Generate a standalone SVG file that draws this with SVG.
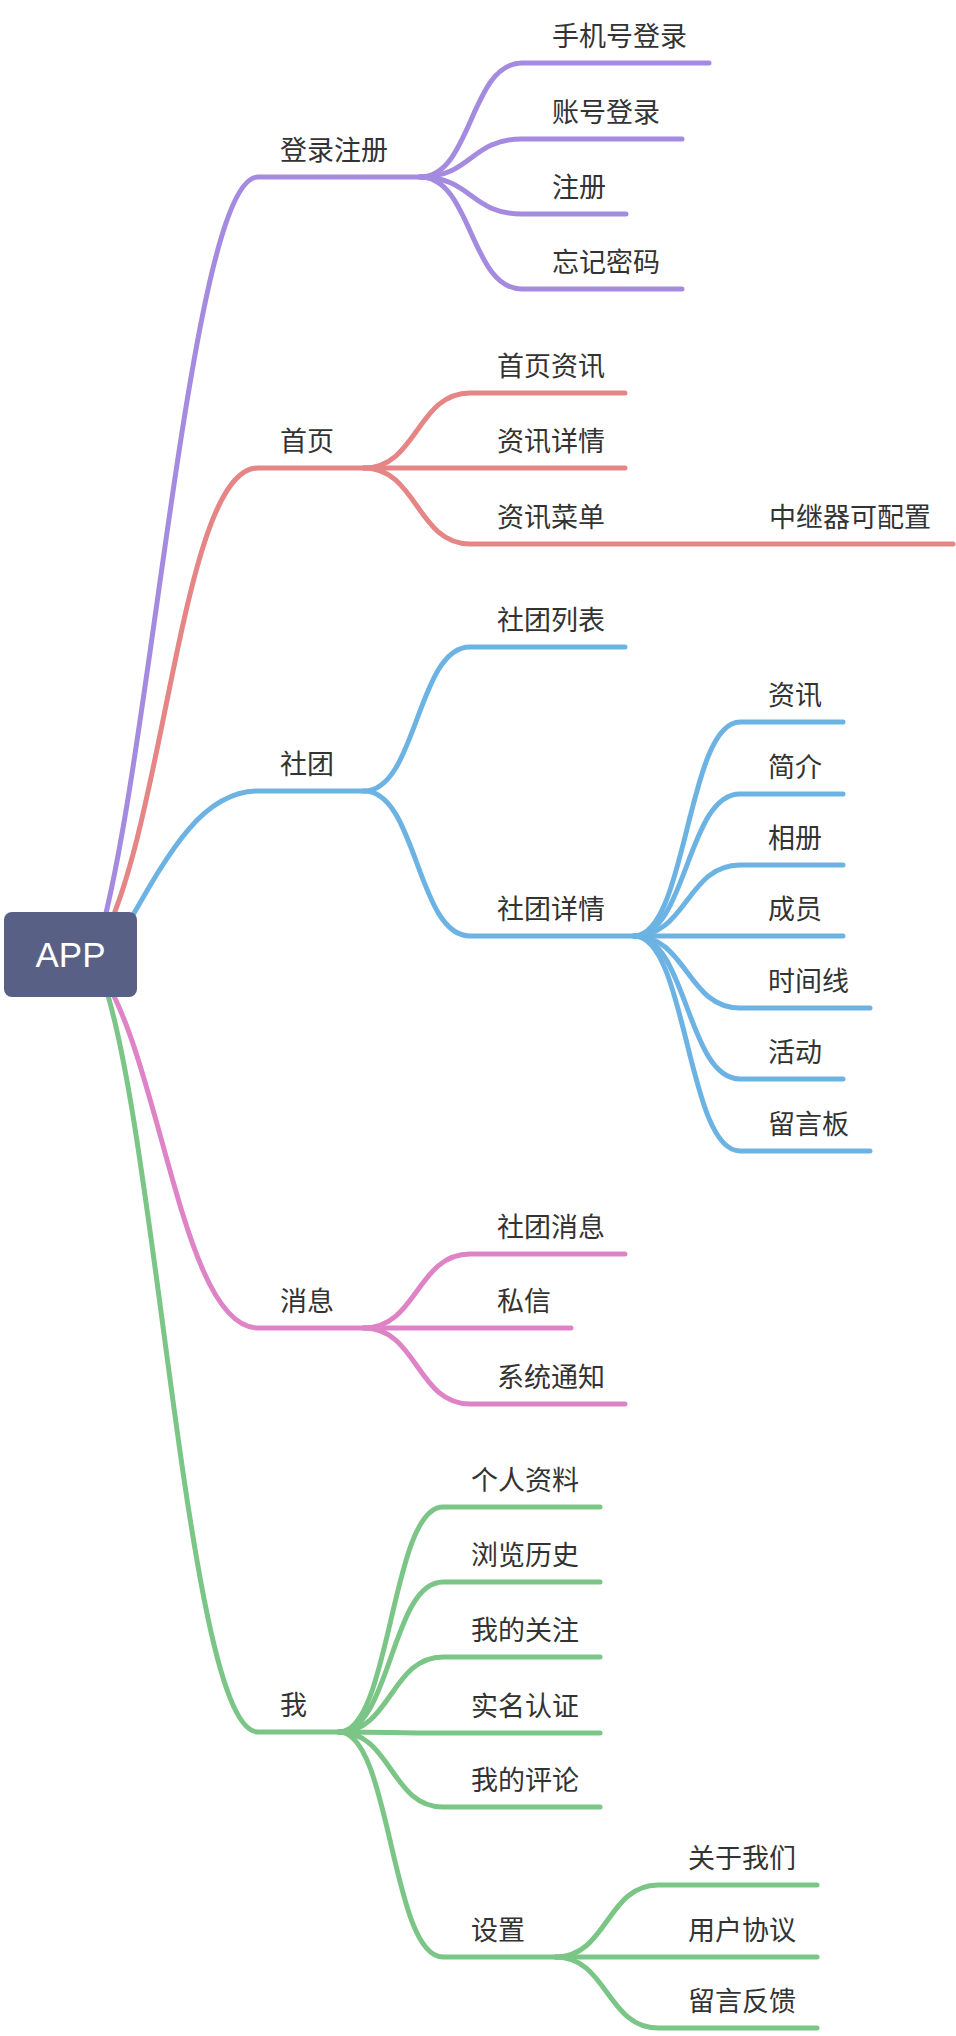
<svg xmlns="http://www.w3.org/2000/svg" width="956" height="2036" viewBox="0 0 956 2036">
<style>
.c{fill:none;stroke-width:5;stroke-linecap:round;stroke-linejoin:round}
.pu{stroke:#a48be0}.rd{stroke:#e58585}.bl{stroke:#6cb3e4}.pk{stroke:#df83c7}.gr{stroke:#7bc587}
text{font-family:"Noto Sans CJK SC","Noto Sans",sans-serif;font-size:27px;fill:#333}
.root text{font-family:"Liberation Sans",Arial,sans-serif;font-size:35px;fill:#fff;text-anchor:middle}
</style>
<rect width="956" height="2036" fill="#fff"/>
<g id="connectors">
<path class="c pu" d="M96,950 C150,780 190,177 258,177 L420,177"/>
<path class="c pu" d="M420,177 C472,177 470,63 522,63 L709,63"/>
<path class="c pu" d="M420,177 C472,177 470,139 522,139 L682,139"/>
<path class="c pu" d="M420,177 C472,177 470,214 522,214 L626,214"/>
<path class="c pu" d="M420,177 C472,177 470,289 522,289 L682,289"/>
<path class="c rd" d="M96,952 C165,840 180,468 258,468 L364,468"/>
<path class="c rd" d="M364,468 C417,468 417,393 470,393 L625,393"/>
<path class="c rd" d="M364,468 L625,468"/>
<path class="c rd" d="M364,468 C417,468 417,544 470,544 L953,544"/>
<path class="c bl" d="M110,955 C160,870 195,791 258,791 L364,791"/>
<path class="c bl" d="M364,791 C417,791 417,647 470,647 L625,647"/>
<path class="c bl" d="M364,791 C417,791 417,936 470,936 L634,936"/>
<path class="c bl" d="M634,936 C687,936 687,722 740,722 L843,722"/>
<path class="c bl" d="M634,936 C687,936 687,794 740,794 L843,794"/>
<path class="c bl" d="M634,936 C687,936 687,865 740,865 L843,865"/>
<path class="c bl" d="M634,936 L843,936"/>
<path class="c bl" d="M634,936 C687,936 687,1008 740,1008 L870,1008"/>
<path class="c bl" d="M634,936 C687,936 687,1079 740,1079 L843,1079"/>
<path class="c bl" d="M634,936 C687,936 687,1151 740,1151 L870,1151"/>
<path class="c pk" d="M95,965 C160,1045 180,1328 258,1328 L364,1328"/>
<path class="c pk" d="M364,1328 C417,1328 417,1254 470,1254 L625,1254"/>
<path class="c pk" d="M364,1328 L571,1328"/>
<path class="c pk" d="M364,1328 C417,1328 417,1404 470,1404 L625,1404"/>
<path class="c gr" d="M95,960 C155,1080 185,1732 258,1732 L339,1732"/>
<path class="c gr" d="M339,1732 C391,1732 391,1507 443,1507 L600,1507"/>
<path class="c gr" d="M339,1732 C391,1732 391,1582 443,1582 L600,1582"/>
<path class="c gr" d="M339,1732 C391,1732 391,1657 443,1657 L600,1657"/>
<path class="c gr" d="M339,1732 C391,1732 391,1733 443,1733 L600,1733"/>
<path class="c gr" d="M339,1732 C391,1732 391,1807 443,1807 L600,1807"/>
<path class="c gr" d="M339,1732 C391,1732 391,1957 443,1957 L556,1957"/>
<path class="c gr" d="M556,1957 C607,1957 607,1885 658,1885 L817,1885"/>
<path class="c gr" d="M556,1957 L817,1957"/>
<path class="c gr" d="M556,1957 C607,1957 607,2028 658,2028 L817,2028"/>
</g>
<g id="root" class="root">
<rect x="4" y="912" width="133" height="85" rx="8" fill="#596085"/>
<text x="70.5" y="967">APP</text>
</g>
<g id="n-login"><text x="280" y="160">登录注册</text></g>
<g id="n-phone"><text x="552" y="46">手机号登录</text></g>
<g id="n-account"><text x="552" y="122">账号登录</text></g>
<g id="n-register"><text x="552" y="197">注册</text></g>
<g id="n-forgot"><text x="552" y="272">忘记密码</text></g>
<g id="n-home"><text x="280" y="451">首页</text></g>
<g id="n-home-news"><text x="497" y="376">首页资讯</text></g>
<g id="n-news-detail"><text x="497" y="451">资讯详情</text></g>
<g id="n-news-menu"><text x="497" y="527">资讯菜单</text></g>
<g id="n-relay"><text x="769" y="527">中继器可配置</text></g>
<g id="n-club"><text x="280" y="774">社团</text></g>
<g id="n-club-list"><text x="497" y="630">社团列表</text></g>
<g id="n-club-detail"><text x="497" y="919">社团详情</text></g>
<g id="n-cd-news"><text x="768" y="705">资讯</text></g>
<g id="n-cd-intro"><text x="768" y="777">简介</text></g>
<g id="n-cd-album"><text x="768" y="848">相册</text></g>
<g id="n-cd-member"><text x="768" y="919">成员</text></g>
<g id="n-cd-timeline"><text x="768" y="991">时间线</text></g>
<g id="n-cd-activity"><text x="768" y="1062">活动</text></g>
<g id="n-cd-board"><text x="768" y="1134">留言板</text></g>
<g id="n-msg"><text x="280" y="1311">消息</text></g>
<g id="n-msg-club"><text x="497" y="1237">社团消息</text></g>
<g id="n-msg-private"><text x="497" y="1311">私信</text></g>
<g id="n-msg-system"><text x="497" y="1387">系统通知</text></g>
<g id="n-me"><text x="280" y="1715">我</text></g>
<g id="n-me-profile"><text x="471" y="1490">个人资料</text></g>
<g id="n-me-history"><text x="471" y="1565">浏览历史</text></g>
<g id="n-me-follow"><text x="471" y="1640">我的关注</text></g>
<g id="n-me-verify"><text x="471" y="1716">实名认证</text></g>
<g id="n-me-comment"><text x="471" y="1790">我的评论</text></g>
<g id="n-me-settings"><text x="471" y="1940">设置</text></g>
<g id="n-set-about"><text x="688" y="1868">关于我们</text></g>
<g id="n-set-terms"><text x="688" y="1940">用户协议</text></g>
<g id="n-set-feedback"><text x="688" y="2011">留言反馈</text></g>
</svg>
